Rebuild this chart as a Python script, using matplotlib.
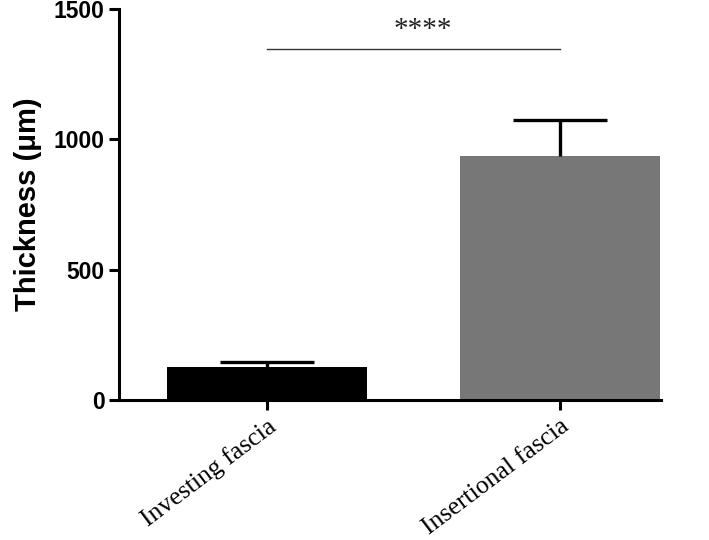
import matplotlib
matplotlib.use("Agg")
import matplotlib.pyplot as plt

categories = ["Investing fascia", "Insertional fascia"]
means = [128, 935]
errors = [18, 140]
colors = ["#000000", "#777777"]
yticks = [0, 500, 1000, 1500]
sig_text = "****"

fig = plt.figure(figsize=(7.09, 5.40), dpi=100)
ax = fig.add_axes([0.168, 0.2593, 0.7645, 0.724])

x = list(range(len(categories)))
ax.bar(x, means, width=0.683, color=colors, edgecolor="none", zorder=2)
eb = ax.errorbar(x, means, yerr=[[0]*len(errors), errors], fmt="none", ecolor="black",
                 elinewidth=2.4, capsize=34, capthick=2.4, zorder=3)
eb.lines[1][0].set_visible(False)

ax.set_xlim(-0.505, 1.345)
ax.set_ylim(0, 1500)
ax.set_yticks(yticks)
ax.set_yticklabels([str(v) for v in yticks], fontfamily="Liberation Sans",
                   fontweight="bold", fontsize=16.5)
ax.set_xticks(x)
ax.set_xticklabels(categories, fontfamily="Liberation Serif", fontsize=18.5,
                   rotation=37, ha="right", rotation_mode="anchor")
ax.set_ylabel("Thickness (\u03bcm)", fontfamily="Liberation Sans", fontweight="bold",
              fontsize=21, labelpad=8)

for s in ["top", "right"]:
    ax.spines[s].set_visible(False)
for s in ["left", "bottom"]:
    ax.spines[s].set_linewidth(2.2)
ax.tick_params(axis="both", width=2.2, length=7, direction="out")
ax.tick_params(axis="x", pad=4)

# significance bar
ax.plot([x[0], x[1]], [1345, 1345], color="#333333", lw=1.0, clip_on=False)
ax.text((x[0] + x[1]) / 2 + 0.03, 1370, sig_text, ha="center", va="bottom",
        fontfamily="Liberation Serif", fontsize=21, color="#222222")

fig.savefig("out.png", dpi=100)
